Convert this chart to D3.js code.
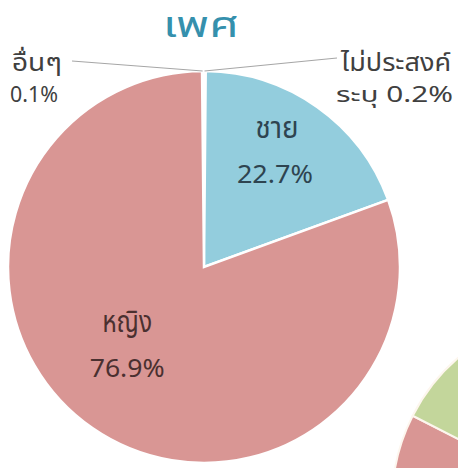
<!DOCTYPE html>
<html>
<head>
<meta charset="utf-8">
<script src="https://cdn.jsdelivr.net/npm/d3@7"></script>
<style>
  body { margin: 0; background: #fff; }
  svg text { font-family: "Noto Sans Thai", "Noto Sans", "DejaVu Sans", sans-serif; }
</style>
</head>
<body>
<div id="chart"></div>
<script>
const width = 458;
const height = 468;

// slices, clockwise from the top
const categories = ["อื่นๆ", "ไม่ประสงค์ระบุ", "ชาย", "หญิง"];
const pctLabels  = ["0.1%", "0.2%", "22.7%", "76.9%"];
// slice sizes as they are drawn in the picture
const shares     = [0.1, 0.2, 19.3, 80.4];
const sliceColors = ["#ffffff", "#ffffff", "#93cddd", "#d99694"];

// the neighbouring pie, only its corner shows
const pie2Shares = [82.5, 17.5];
const pie2Colors = ["#d99694", "#c3d69b"];

const cx = 204, cy = 267, radius = 196;

const svg = d3.select("#chart").append("svg")
  .attr("width", width)
  .attr("height", height);

// text helper: the thai font here is narrower than the original, so stretch to width
function label(parent, str, x, y, w, size, anchor, fill) {
  return parent.append("text")
    .attr("x", x).attr("y", y)
    .attr("text-anchor", anchor)
    .attr("font-size", size)
    .attr("fill", fill)
    .attr("textLength", w)
    .attr("lengthAdjust", "spacingAndGlyphs")
    .text(str);
}

// second pie, mostly outside the frame
const pie2 = d3.pie().sort(null).value(d => d);
const arc2 = d3.arc().innerRadius(0).outerRadius(190);
svg.append("g")
  .attr("transform", "translate(582,502)")
  .selectAll("path")
  .data(pie2(pie2Shares))
  .enter().append("path")
  .attr("d", arc2)
  .attr("fill", (d, i) => pie2Colors[i])
  .attr("stroke", "#fdf6ee")
  .attr("stroke-width", 2);

// main pie
const off = shares[0] / 100 * Math.PI * 2 * 1.6;
const pie = d3.pie().sort(null).value(d => d)
  .startAngle(-off)
  .endAngle(2 * Math.PI - off);
const arc = d3.arc().innerRadius(0).outerRadius(radius);
const arcs = pie(shares);

const g = svg.append("g").attr("transform", `translate(${cx},${cy})`);
g.selectAll("path")
  .data(arcs)
  .enter().append("path")
  .attr("d", arc)
  .attr("fill", (d, i) => sliceColors[i])
  .attr("stroke", "#fff")
  .attr("stroke-width", 2.5);

// inner labels for the two big slices (nudged off the centroid like excel does)
const labelArc = d3.arc().innerRadius(135).outerRadius(135);
const inner = {
  2: { name: [-5, -19, 43], pct: [-7, 26, 76], fill: "#2e4450" },
  3: { name: [0, -46, 50], pct: [0, -1, 75], fill: "#4a3030" }
};
[2, 3].forEach(function(i) {
  const c = labelArc.centroid(arcs[i]);
  const o = inner[i];
  label(g, categories[i], c[0] + o.name[0], c[1] + o.name[1], o.name[2], 30, "middle", o.fill);
  label(g, pctLabels[i], c[0] + o.pct[0], c[1] + o.pct[1], o.pct[2], 25, "middle", o.fill);
});

// leader lines for the tiny slices
const edge = d3.arc().innerRadius(radius).outerRadius(radius);
const pL = edge.centroid(arcs[0]);
const pR = edge.centroid(arcs[1]);
g.append("polyline")
  .attr("points", [[pL[0], pL[1]], [72 - cx, 61 - cy]].join(" "))
  .attr("fill", "none").attr("stroke", "#a6a6a6").attr("stroke-width", 1.2);
g.append("polyline")
  .attr("points", [[pR[0], pR[1]], [337 - cx, 58 - cy]].join(" "))
  .attr("fill", "none").attr("stroke", "#a6a6a6").attr("stroke-width", 1.2);

label(svg, categories[0], 12, 71, 50, 24, "start", "#404040");
label(svg, pctLabels[0], 10, 102, 48, 22, "start", "#404040");
label(svg, categories[1].slice(0, -4), 451, 71, 110, 24, "end", "#404040");
label(svg, categories[1].slice(-4) + " " + pctLabels[1], 453, 102, 117, 22, "end", "#404040");

// title
label(svg, "เพศ", 201, 37, 76, 36, "middle", "#3590ad");
</script>
</body>
</html>
